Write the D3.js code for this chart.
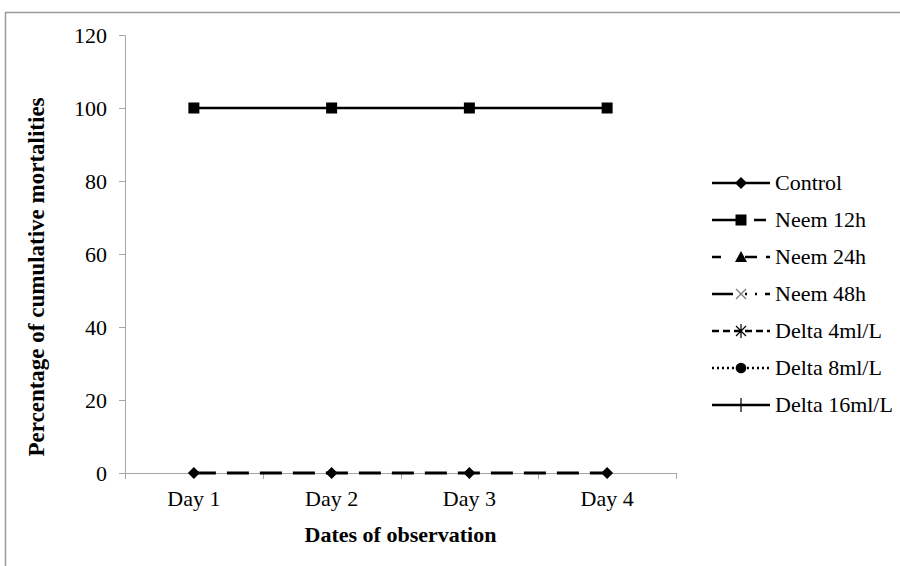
<!DOCTYPE html>
<html>
<head>
<meta charset="utf-8">
<script src="https://cdn.jsdelivr.net/npm/d3@7"></script>
<style>
  body { margin: 0; background: #fff; }
  svg { display: block; }
  svg text { font-family: "Liberation Serif", "DejaVu Serif", serif; fill: #000; }
  .axis path, .axis line { stroke: #a6a6a6; }
</style>
</head>
<body>
<svg id="chart" width="900" height="566"></svg>
<script>
// categories and values
var days = ["Day 1", "Day 2", "Day 3", "Day 4"];
var yTicks = [0, 20, 40, 60, 80, 100, 120];
var seriesNames = ["Control", "Neem 12h", "Neem 24h", "Neem 48h", "Delta 4ml/L", "Delta 8ml/L", "Delta 16ml/L"];
var control = [0, 0, 0, 0];
var neem12 = [100, 100, 100, 100];
var neem24 = [0, 0, 0, 0];

// look of each series (plot and legend)
var styles = {
  "Control":      {marker: "diamond",  legendDash: null},
  "Neem 12h":     {marker: "square",   legendDash: "24,18,12"},
  "Neem 24h":     {marker: "triangle", legendDash: "9,14,0,10,12"},
  "Neem 48h":     {marker: "x",        legendDash: "21,12,2,8,2,8"},
  "Delta 4ml/L":  {marker: "star",     legendDash: "7,4"},
  "Delta 8ml/L":  {marker: "circle",   legendDash: "2,3"},
  "Delta 16ml/L": {marker: "plus",     legendDash: null}
};

var FONT = "Liberation Serif, DejaVu Serif, serif";

var svg = d3.select("#chart");
var margin = {left: 125, right: 224, top: 35, bottom: 93};
var w = 900 - margin.left - margin.right;
var h = 566 - margin.top - margin.bottom;

// outer frame
svg.append("path")
  .attr("d", "M5.5,566 L5.5,12.5 L900,12.5")
  .attr("fill", "none").attr("stroke", "#9a9a9a").attr("stroke-width", 1.5);

var g = svg.append("g").attr("transform", "translate(" + margin.left + "," + margin.top + ")");

var x = d3.scaleBand().domain(days).range([0, w]);
var y = d3.scaleLinear().domain([0, 120]).range([h, 0]);

// y axis
var yAxis = g.append("g").attr("class", "axis")
  .call(d3.axisLeft(y).tickValues(yTicks).tickSize(6).tickPadding(12));
yAxis.select(".domain").attr("d", "M0.5," + (h + 6) + "V0.5H-6");

// x axis with ticks between categories
var xAxis = g.append("g").attr("class", "axis")
  .attr("transform", "translate(0," + h + ")")
  .call(d3.axisBottom(x).tickSize(0).tickPadding(17));
xAxis.select(".domain").attr("d", "M-6,0.5H" + w);
xAxis.selectAll(".sep")
  .data(d3.range(days.length + 1))
  .enter().append("line")
  .attr("class", "sep")
  .attr("x1", function(i) { return Math.round(i * x.step()) + 0.5; })
  .attr("x2", function(i) { return Math.round(i * x.step()) + 0.5; })
  .attr("y1", 0).attr("y2", 6)
  .attr("stroke", "#a6a6a6");

g.selectAll(".axis").attr("font-family", FONT).attr("font-size", 22);
g.selectAll(".axis text").attr("fill", "#000");

function cx(d, i) { return x(days[i]) + x.bandwidth() / 2; }

var line = d3.line()
  .x(function(d, i) { return cx(d, i); })
  .y(function(d) { return y(d); });

function markerPath(type) {
  if (type === "diamond") return "M0,-6L6,0L0,6L-6,0Z";
  if (type === "square") return "M-5.5,-5.5H5.5V5.5H-5.5Z";
  if (type === "triangle") return "M0,-6L6,5H-6Z";
  if (type === "x") return "M-5,-5L5,5M5,-5L-5,5";
  if (type === "star") return "M-5,-5L5,5M5,-5L-5,5M0,-7V7";
  if (type === "plus") return "M0,-7V7M-6,0H6";
  return d3.symbol(d3.symbolCircle, 90)();
}
function drawMarker(sel, type) {
  var open = (type === "x" || type === "star" || type === "plus");
  sel.append("path")
    .attr("d", markerPath(type))
    .attr("fill", open ? "none" : "#000")
    .attr("stroke", open ? (type === "x" ? "#777" : "#000") : "none")
    .attr("stroke-width", 1.2);
}

// Neem 12h line at 100
g.append("path").datum(neem12)
  .attr("d", line).attr("fill", "none")
  .attr("stroke", "#000").attr("stroke-width", 2.5);
g.selectAll(".m12").data(neem12).enter().append("g")
  .attr("class", "m12")
  .attr("transform", function(d, i) { return "translate(" + cx(d, i) + "," + y(d) + ")"; })
  .each(function() { drawMarker(d3.select(this), "square"); });

// dashed Neem 24h line at 0
g.append("path").datum(neem24)
  .attr("d", line).attr("fill", "none")
  .attr("stroke", "#000").attr("stroke-width", 3)
  .attr("stroke-dasharray", "22,11");

// Control markers at 0
g.selectAll(".mc").data(control).enter().append("g")
  .attr("class", "mc")
  .attr("transform", function(d, i) { return "translate(" + cx(d, i) + "," + y(d) + ")"; })
  .each(function() { drawMarker(d3.select(this), "diamond"); });

// axis titles
svg.append("text")
  .attr("transform", "translate(44,277) rotate(-90)")
  .attr("text-anchor", "middle")
  .attr("font-family", FONT)
  .attr("font-size", 23).attr("font-weight", "bold")
  .text("Percentage of cumulative mortalities");

svg.append("text")
  .attr("x", margin.left + w / 2).attr("y", 542)
  .attr("text-anchor", "middle")
  .attr("font-family", FONT)
  .attr("font-size", 22).attr("font-weight", "bold")
  .text("Dates of observation");

// legend
var legend = svg.append("g").attr("transform", "translate(712,183)");
var item = legend.selectAll(".item").data(seriesNames).enter().append("g")
  .attr("class", "item")
  .attr("transform", function(d, i) { return "translate(0," + (i * 37) + ")"; });
item.append("line")
  .attr("x1", 0).attr("x2", 58).attr("y1", 0).attr("y2", 0)
  .attr("stroke", "#000").attr("stroke-width", 2.5)
  .attr("stroke-dasharray", function(d) { return styles[d].legendDash; });
item.append("g").attr("transform", "translate(29,0)")
  .each(function(d) { drawMarker(d3.select(this), styles[d].marker); });
item.append("text")
  .attr("x", 63).attr("y", 7)
  .attr("font-family", FONT)
  .attr("font-size", 22)
  .text(function(d) { return d; });
</script>
</body>
</html>
